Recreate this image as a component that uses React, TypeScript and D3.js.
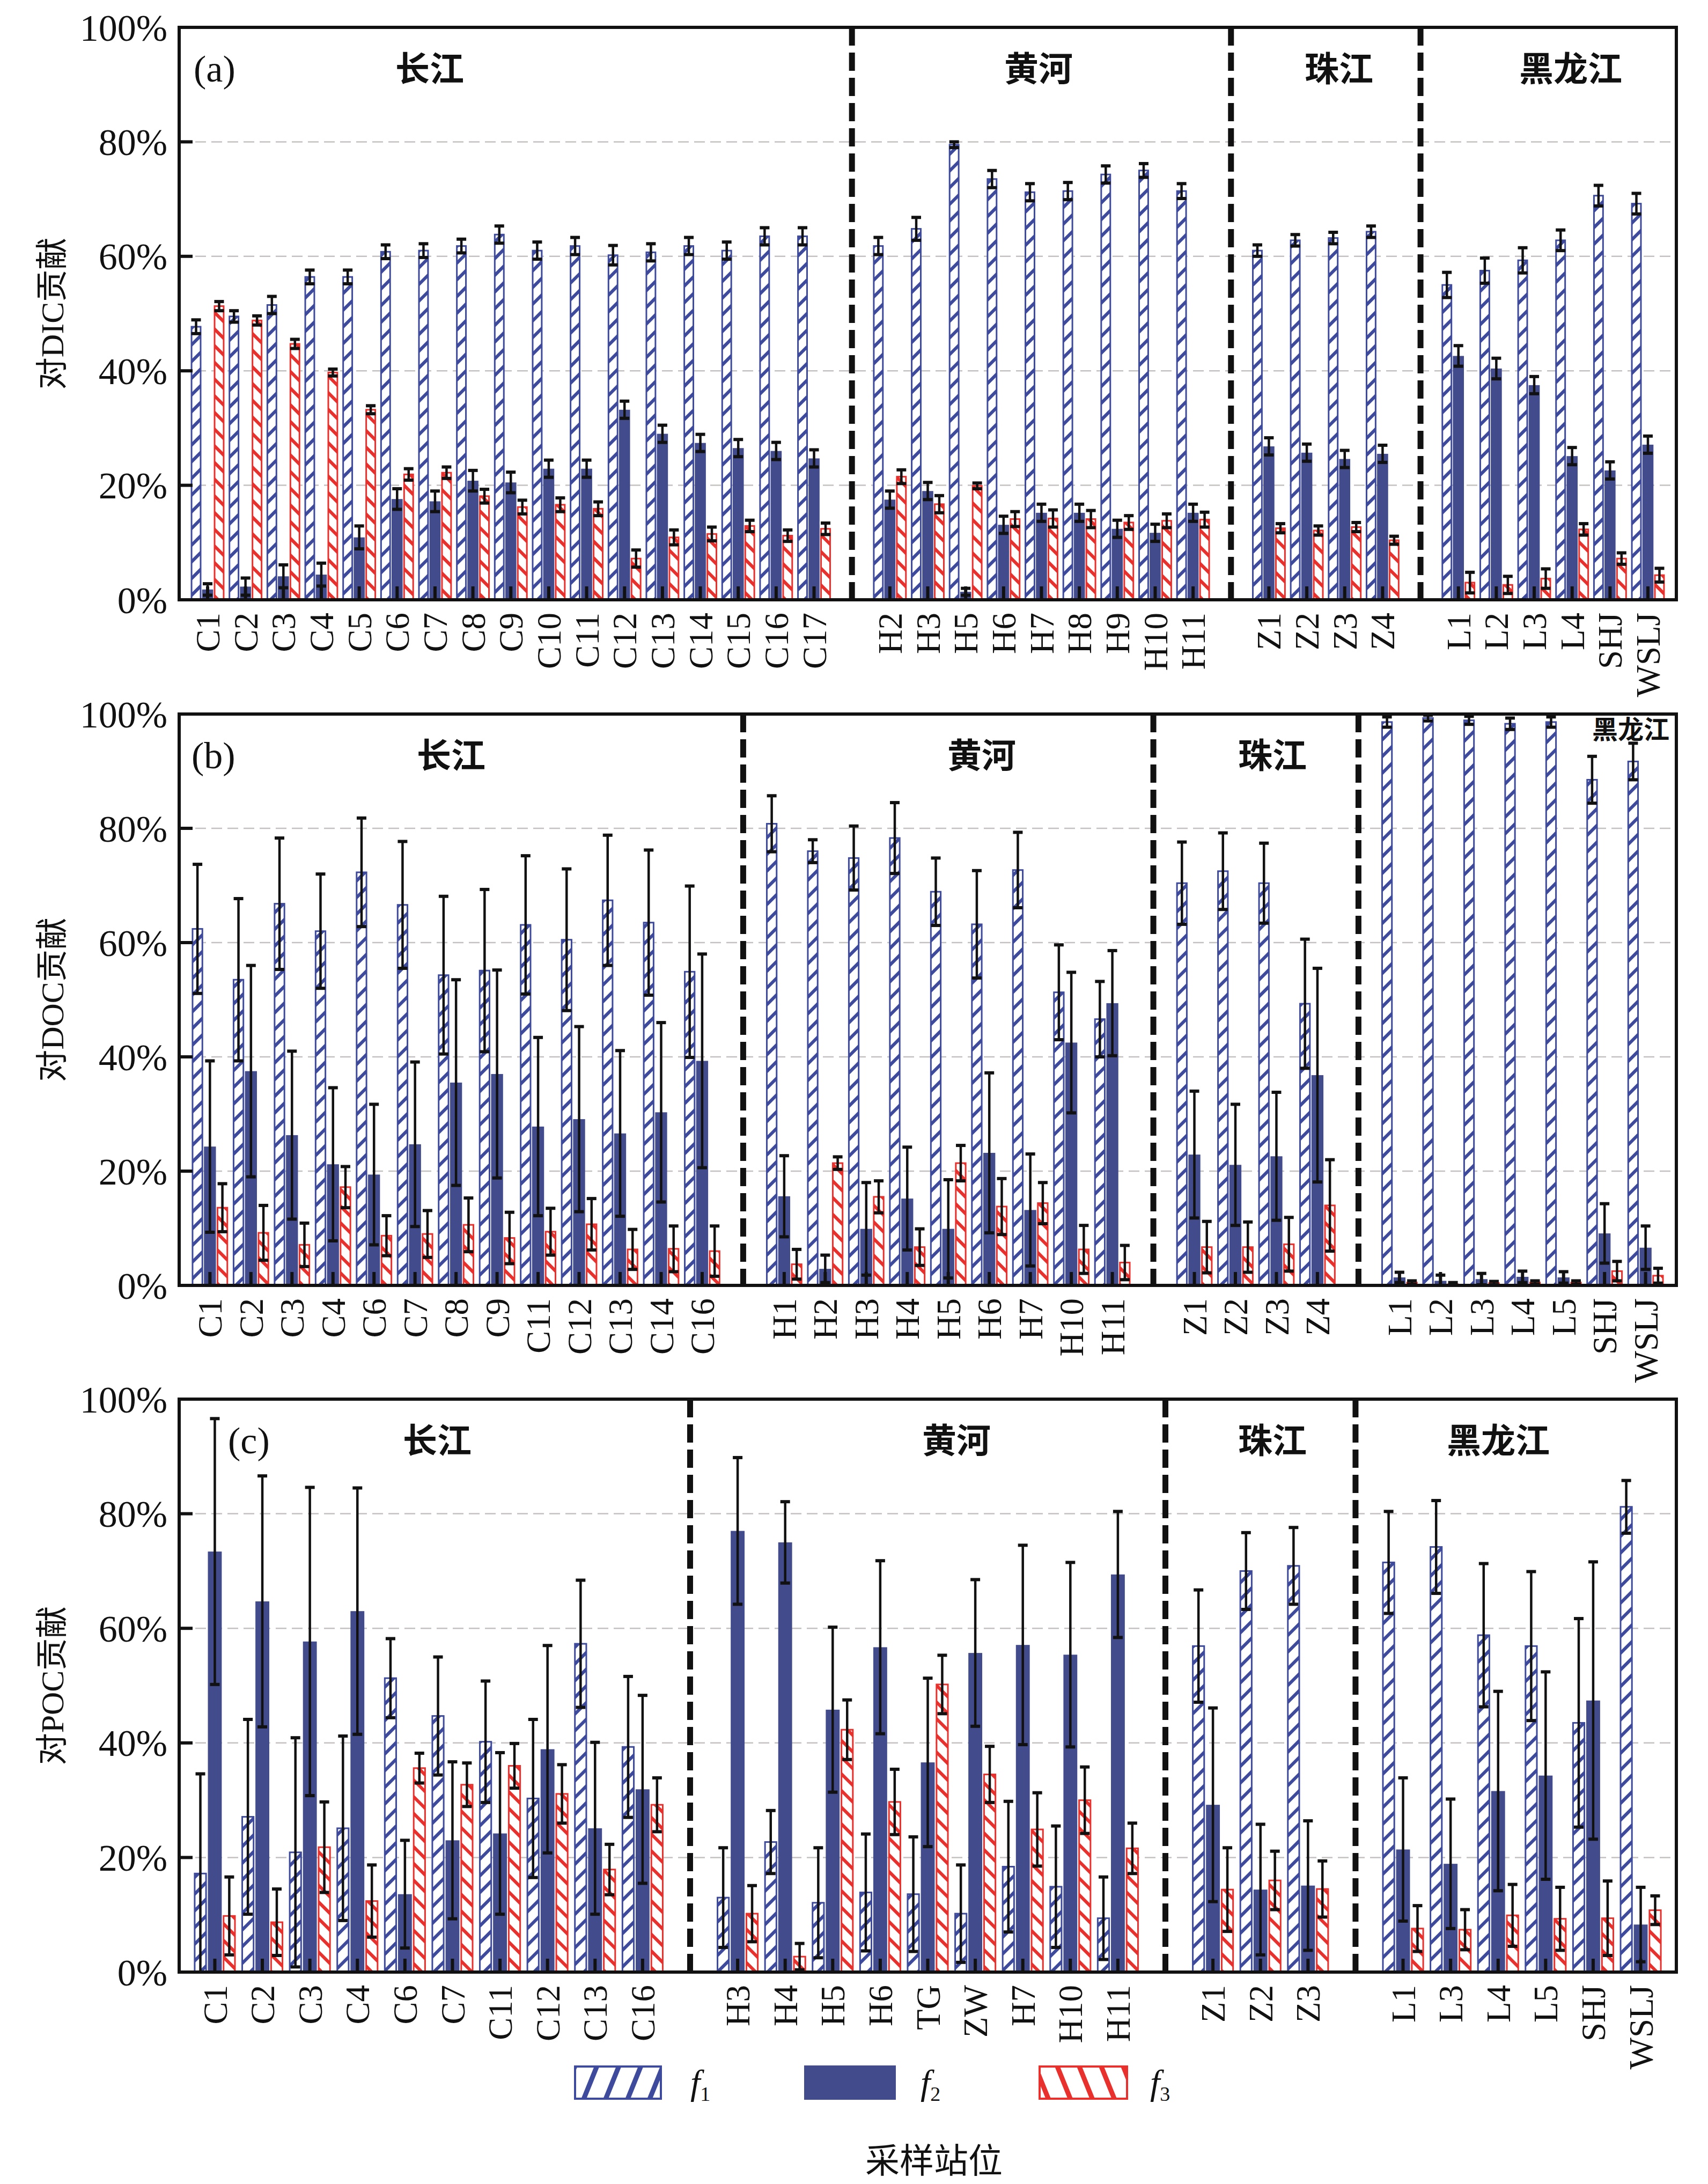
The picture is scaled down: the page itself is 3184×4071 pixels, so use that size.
import * as d3 from "d3";

const W = 3184;
const H = 4071;
const L = 334;
const R = 3125;

const BLUE = "#3e4a9c";
const NAVY = "#424c8c";
const RED = "#e8302c";
const SERIF = "'Liberation Serif', 'Noto Sans CJK SC', serif";

// ---------- (a) DIC ----------
const dicGroups = [
  ["C1", "C2", "C3", "C4", "C5", "C6", "C7", "C8", "C9", "C10", "C11", "C12", "C13", "C14", "C15", "C16", "C17"],
  ["H2", "H3", "H5", "H6", "H7", "H8", "H9", "H10", "H11"],
  ["Z1", "Z2", "Z3", "Z4"],
  ["L1", "L2", "L3", "L4", "SHJ", "WSLJ"],
];
const dicF1 = [47.7, 49.5, 51.5, 56.4, 56.4, 60.8, 61.0, 61.8, 63.8, 61.0, 61.8, 60.2, 60.7, 61.8, 61.0, 63.5, 63.5,
  61.8, 64.8, 79.5, 73.5, 71.2, 71.4, 74.3, 75.0, 71.4,
  61.0, 62.8, 63.2, 64.3,
  55.0, 57.5, 59.3, 62.8, 70.6, 69.2];
const dicF1Err = [1.2, 1.0, 1.5, 1.2, 1.2, 1.2, 1.2, 1.2, 1.5, 1.5, 1.5, 1.7, 1.5, 1.5, 1.5, 1.5, 1.5,
  1.5, 2.0, 0.5, 1.5, 1.5, 1.5, 1.5, 1.2, 1.3,
  1.0, 1.0, 1.0, 1.0,
  2.2, 2.2, 2.2, 1.8, 1.8, 1.8];
const dicF2 = [1.8, 2.3, 4.1, 4.4, 10.9, 17.6, 17.2, 20.8, 20.5, 22.9, 22.9, 33.2, 29.0, 27.4, 26.5, 26.0, 24.7,
  17.5, 19.0, 1.4, 13.1, 15.2, 15.2, 12.4, 11.7, 15.2,
  26.8, 25.7, 24.6, 25.5,
  42.6, 40.4, 37.5, 25.1, 22.6, 27.1];
const dicF2Err = [1.0, 1.5, 2.0, 2.0, 2.0, 1.8, 1.8, 1.8, 1.8, 1.5, 1.5, 1.5, 1.5, 1.5, 1.5, 1.5, 1.5,
  1.5, 1.5, 0.6, 1.5, 1.5, 1.5, 1.5, 1.5, 1.5,
  1.5, 1.5, 1.5, 1.5,
  1.8, 1.8, 1.5, 1.5, 1.5, 1.5];
const dicF3 = [51.3, 48.8, 44.7, 39.7, 33.2, 21.9, 22.2, 18.1, 16.2, 16.6, 15.9, 7.2, 10.9, 11.5, 12.9, 11.2, 12.4,
  21.5, 16.7, 19.9, 14.1, 14.2, 14.1, 13.5, 13.8, 14.0,
  12.5, 12.1, 12.7, 10.4,
  3.0, 2.6, 3.7, 12.3, 7.2, 4.3];
const dicF3Err = [0.8, 0.8, 0.8, 0.6, 0.7, 1.0, 1.0, 1.2, 1.2, 1.2, 1.2, 1.5, 1.3, 1.2, 1.0, 1.0, 1.0,
  1.2, 1.5, 0.5, 1.3, 1.5, 1.5, 1.2, 1.2, 1.3,
  0.8, 0.8, 0.8, 0.7,
  1.8, 1.5, 1.7, 1.0, 1.0, 1.2];

// ---------- (b) DOC ----------
const docGroups = [
  ["C1", "C2", "C3", "C4", "C6", "C7", "C8", "C9", "C11", "C12", "C13", "C14", "C16"],
  ["H1", "H2", "H3", "H4", "H5", "H6", "H7", "H10", "H11"],
  ["Z1", "Z2", "Z3", "Z4"],
  ["L1", "L2", "L3", "L4", "L5", "SHJ", "WSLJ"],
];
const docF1 = [62.4, 53.5, 66.8, 62.0, 72.3, 66.6, 54.3, 55.1, 63.1, 60.5, 67.4, 63.5, 54.9,
  80.8, 76.0, 74.8, 78.3, 68.9, 63.2, 72.7, 51.3, 46.6,
  70.4, 72.5, 70.4, 49.3,
  98.6, 99.3, 98.9, 98.3, 98.6, 88.5, 91.7];
const docF1Err = [11.3, 14.2, 11.5, 10.0, 9.5, 11.1, 13.8, 14.2, 12.1, 12.4, 11.4, 12.7, 15.0,
  4.9, 2.0, 5.6, 6.2, 5.9, 9.4, 6.6, 8.3, 6.6,
  7.2, 6.7, 7.0, 11.3,
  0.9, 0.5, 0.7, 1.0, 0.9, 4.1, 3.2];
const docF2 = [24.3, 37.5, 26.3, 21.2, 19.4, 24.7, 35.5, 37.0, 27.8, 29.1, 26.6, 30.3, 39.3,
  15.6, 2.9, 9.9, 15.2, 9.9, 23.2, 13.2, 42.5, 49.4,
  22.9, 21.1, 22.6, 36.8,
  1.4, 0.8, 1.1, 1.5, 1.4, 9.1, 6.6];
const docF2Err = [15.0, 18.5, 14.7, 13.4, 12.3, 14.4, 18.0, 18.2, 15.6, 16.2, 14.5, 15.7, 18.7,
  7.1, 2.4, 8.1, 9.0, 8.6, 14.0, 9.8, 12.3, 9.2,
  11.1, 10.6, 11.2, 18.7,
  0.9, 1.0, 1.0, 1.0, 1.0, 5.2, 3.8];
const docF3 = [13.6, 9.2, 7.1, 17.2, 8.7, 9.0, 10.6, 8.3, 9.4, 10.7, 6.3, 6.4, 6.0,
  3.7, 21.4, 15.5, 6.7, 21.4, 13.8, 14.4, 6.3, 4.0,
  6.7, 6.7, 7.2, 14.0,
  0.5, 0.2, 0.4, 0.5, 0.5, 2.5, 1.7];
const docF3Err = [4.2, 4.8, 3.8, 3.6, 3.5, 4.1, 4.7, 4.5, 4.1, 4.5, 3.5, 4.0, 4.4,
  2.6, 1.1, 2.8, 3.2, 3.1, 4.9, 3.6, 4.2, 3.0,
  4.5, 4.4, 4.7, 8.0,
  0.3, 0.3, 0.3, 0.3, 0.3, 1.7, 1.3];

// ---------- (c) POC ----------
const pocGroups = [
  ["C1", "C2", "C3", "C4", "C6", "C7", "C11", "C12", "C13", "C16"],
  ["H3", "H4", "H5", "H6", "TG", "ZW", "H7", "H10", "H11"],
  ["Z1", "Z2", "Z3"],
  ["L1", "L3", "L4", "L5", "SHJ", "WSLJ"],
];
const pocF1 = [17.2, 27.1, 20.9, 25.1, 51.3, 44.7, 40.2, 30.3, 57.3, 39.3,
  13.0, 22.7, 12.1, 13.9, 13.6, 10.2, 18.4, 14.9, 9.4,
  56.9, 70.0, 70.9,
  71.5, 74.2, 58.8, 56.9, 43.5, 81.2];
const pocF1Err = [17.4, 17.0, 20.0, 16.1, 6.9, 10.3, 10.6, 13.8, 11.1, 12.3,
  8.7, 5.5, 9.6, 10.2, 10.0, 8.5, 11.4, 10.6, 7.2,
  9.8, 6.7, 6.7,
  8.9, 8.1, 12.5, 13.0, 18.2, 4.6];
const pocF2 = [73.4, 64.7, 57.7, 63.0, 13.6, 23.0, 24.2, 38.9, 25.1, 31.9,
  77.0, 75.0, 45.8, 56.7, 36.6, 55.7, 57.1, 55.4, 69.4,
  29.2, 14.4, 15.1,
  21.4, 18.9, 31.6, 34.3, 47.4, 8.3];
const pocF2Err = [23.2, 21.9, 26.9, 21.5, 9.4, 13.7, 14.1, 18.1, 15.0, 16.4,
  12.8, 7.1, 14.4, 15.1, 14.7, 12.8, 17.4, 16.1, 11.0,
  16.9, 11.4, 11.3,
  12.5, 11.3, 17.4, 18.1, 24.2, 6.5];
const pocF3 = [9.8, 8.7, 21.8, 12.4, 35.6, 32.7, 36.0, 31.1, 17.9, 29.2,
  10.2, 2.7, 42.3, 29.7, 50.2, 34.5, 24.9, 30.0, 21.6,
  14.4, 16.0, 14.5,
  7.6, 7.4, 9.9, 9.3, 9.4, 10.8];
const pocF3Err = [6.8, 5.8, 7.9, 6.3, 2.6, 3.8, 3.9, 5.1, 4.4, 4.7,
  4.9, 2.3, 5.2, 5.7, 5.1, 4.9, 6.4, 5.8, 4.4,
  7.3, 5.1, 4.9,
  4.0, 3.5, 5.4, 5.5, 6.5, 2.5];

const yTicks = [0, 20, 40, 60, 80, 100];

const panels = [
  {
    key: "a", letter: "(a)", letterX: 361, title: "对DIC贡献", top: 51, bottom: 1118,
    groups: dicGroups, f1: dicF1, e1: dicF1Err, f2: dicF2, e2: dicF2Err, f3: dicF3, e3: dicF3Err,
    labels: [
      { t: "长江", x: 801, size: 64 },
      { t: "黄河", x: 1936, size: 64 },
      { t: "珠江", x: 2496, size: 64 },
      { t: "黑龙江", x: 2928, size: 64 },
    ],
  },
  {
    key: "b", letter: "(b)", letterX: 357, title: "对DOC贡献", top: 1331, bottom: 2396,
    groups: docGroups, f1: docF1, e1: docF1Err, f2: docF2, e2: docF2Err, f3: docF3, e3: docF3Err,
    labels: [
      { t: "长江", x: 841, size: 64 },
      { t: "黄河", x: 1830, size: 64 },
      { t: "珠江", x: 2372, size: 64 },
      { t: "黑龙江", x: 3040, size: 48, dy: -48 },
    ],
  },
  {
    key: "c", letter: "(c)", letterX: 425, title: "对POC贡献", top: 2608, bottom: 3676,
    groups: pocGroups, f1: pocF1, e1: pocF1Err, f2: pocF2, e2: pocF2Err, f3: pocF3, e3: pocF3Err,
    labels: [
      { t: "长江", x: 815, size: 64 },
      { t: "黄河", x: 1783, size: 64 },
      { t: "珠江", x: 2372, size: 64 },
      { t: "黑龙江", x: 2793, size: 64 },
    ],
  },
];

function ErrBar({ x, y0, y1 }: { x: number; y0: number; y1: number }) {
  const cw = 9;
  return (
    <g stroke="#111">
      <line x1={x} x2={x} y1={y0} y2={y1} strokeWidth={4.5} />
      <line x1={x - cw} x2={x + cw} y1={y0} y2={y0} strokeWidth={6} />
      <line x1={x - cw} x2={x + cw} y1={y1} y2={y1} strokeWidth={6} />
    </g>
  );
}

function Panel({ p }: { p: (typeof panels)[number] }) {
  const slots = p.groups.flatMap((g, i) => (i === 0 ? g : [`sep${i}`, ...g]));
  const cats = p.groups.flat();
  const seps = slots.filter((s) => s.startsWith("sep"));
  const x = d3.scalePoint<string>().domain(slots).range([L, R]).padding(0.75);
  const step = x.step();
  const y = d3.scaleLinear().domain([0, 100]).range([p.bottom, p.top]);
  const inner = d3.scaleBand<string>().domain(["f1", "f2", "f3"]).range([-0.45 * step, 0.45 * step]).paddingInner(0.04);
  const bw = inner.bandwidth();
  const hw = bw * 0.82;
  const series = [
    { k: "f1", v: p.f1, e: p.e1 },
    { k: "f2", v: p.f2, e: p.e2 },
    { k: "f3", v: p.f3, e: p.e3 },
  ];
  const cy = (p.top + p.bottom) / 2;

  return (
    <g>
      {/* grid */}
      {yTicks.filter((t) => t > 0 && t < 100).map((t) => (
        <line key={t} x1={L} x2={R} y1={y(t)} y2={y(t)} stroke="#c6c1c1" strokeWidth={2.5} strokeDasharray="20 10" />
      ))}
      {/* separators */}
      {seps.map((s) => (
        <line key={s} x1={x(s)} x2={x(s)} y1={p.top} y2={p.bottom} stroke="#111" strokeWidth={11} strokeDasharray="34 13" />
      ))}
      {/* bars */}
      {cats.map((c, i) => {
        const cx = x(c)!;
        return (
          <g key={c}>
            {series.map((s) => {
              const mid = cx + inner(s.k)! + bw / 2;
              const v = s.v[i];
              if (s.k === "f2") {
                return <rect key={s.k} x={mid - bw / 2} y={y(v)} width={bw} height={p.bottom - y(v)} fill={NAVY} />;
              }
              return (
                <rect key={s.k} x={mid - hw / 2} y={y(v)} width={hw} height={Math.max(0, p.bottom - y(v))}
                  fill={s.k === "f1" ? "url(#hatchF1)" : "url(#hatchF3)"}
                  stroke={s.k === "f1" ? BLUE : RED} strokeWidth={3} />
              );
            })}
            {series.map((s) => {
              const mid = cx + inner(s.k)! + bw / 2;
              const lo = Math.max(0, s.v[i] - s.e[i]);
              const hi = Math.min(100, s.v[i] + s.e[i]);
              return <ErrBar key={"e" + s.k} x={mid} y0={y(hi)} y1={y(lo)} />;
            })}
          </g>
        );
      })}
      {/* x ticks */}
      {slots.map((s) => (
        <line key={"t" + s} x1={x(s)} x2={x(s)} y1={p.bottom} y2={p.bottom - 25} stroke="#111" strokeWidth={6} />
      ))}
      {/* y ticks */}
      {yTicks.map((t) => (
        <g key={"y" + t}>
          <line x1={L} x2={L + 25} y1={y(t)} y2={y(t)} stroke="#111" strokeWidth={6} />
          <text x={L - 22} y={y(t)} dy="0.35em" textAnchor="end" fontSize={70} fontFamily={SERIF} fill="#111">
            {t}%
          </text>
        </g>
      ))}
      {/* frame */}
      <rect x={L} y={p.top} width={R - L} height={p.bottom - p.top} fill="none" stroke="#111" strokeWidth={6} />
      {/* x labels */}
      {cats.map((c) => (
        <text key={"l" + c} transform={`translate(${x(c)},${p.bottom + 24}) rotate(-90)`} dy="0.35em"
          textAnchor="end" fontSize={63} fontFamily={SERIF} fill="#111">
          {c}
        </text>
      ))}
      {/* panel letter and group names */}
      <text x={p.letterX} y={p.top + 101} fontSize={70} fontFamily={SERIF} fill="#111">{p.letter}</text>
      {p.labels.map((g) => (
        <text key={g.t} x={g.x} y={p.top + 77 + (g.dy ?? 0)} dy="0.36em" textAnchor="middle" fontSize={g.size}
          fontFamily={SERIF} fontWeight={700} fill="#111">
          {g.t}
        </text>
      ))}
      {/* y title */}
      <text transform={`translate(97,${cy}) rotate(-90)`} dy="0.35em" textAnchor="middle" fontSize={60}
        fontFamily={SERIF} fill="#111">
        {p.title}
      </text>
    </g>
  );
}

export default function App() {
  const legend = [
    { k: "f1", x: 1072, w: 160, fill: "url(#legF1)", stroke: BLUE, lx: 1287, sub: "1" },
    { k: "f2", x: 1501, w: 167, fill: NAVY, stroke: NAVY, lx: 1716, sub: "2" },
    { k: "f3", x: 1938, w: 163, fill: "url(#legF3)", stroke: RED, lx: 2144, sub: "3" },
  ];
  return (
    <svg width={W} height={H} viewBox={`0 0 ${W} ${H}`} style={{ position: "absolute", left: 0, top: 0, background: "#fff" }}>
      <defs>
        <pattern id="hatchF1" patternUnits="userSpaceOnUse" width={22} height={22} patternTransform="rotate(45)">
          <rect width={22} height={22} fill="#fff" />
          <rect width={6} height={22} fill={BLUE} />
        </pattern>
        <pattern id="hatchF3" patternUnits="userSpaceOnUse" width={22} height={22} patternTransform="rotate(-45)">
          <rect width={22} height={22} fill="#fff" />
          <rect width={6} height={22} fill={RED} />
        </pattern>
        <pattern id="legF1" patternUnits="userSpaceOnUse" width={38} height={38} patternTransform="rotate(22)">
          <rect width={38} height={38} fill="#fff" />
          <rect width={9} height={38} fill={BLUE} />
        </pattern>
        <pattern id="legF3" patternUnits="userSpaceOnUse" width={38} height={38} patternTransform="rotate(-22)">
          <rect width={38} height={38} fill="#fff" />
          <rect width={9} height={38} fill={RED} />
        </pattern>
      </defs>
      <rect width={W} height={H} fill="#fff" />
      {panels.map((p) => (
        <Panel key={p.key} p={p} />
      ))}
      {legend.map((l) => (
        <g key={l.k}>
          <rect x={l.x} y={3852} width={l.w} height={60} fill={l.fill} stroke={l.stroke} strokeWidth={4} />
          <text x={l.lx} y={3904} fontSize={66} fontFamily={SERIF} fontStyle="italic" fill="#111">
            f<tspan fontSize={38} fontStyle="normal" dy={12}>{l.sub}</tspan>
          </text>
        </g>
      ))}
      <text x={1741} y={4028} dy="0.35em" textAnchor="middle" fontSize={64} fontFamily={SERIF} fill="#111">
        采样站位
      </text>
    </svg>
  );
}
